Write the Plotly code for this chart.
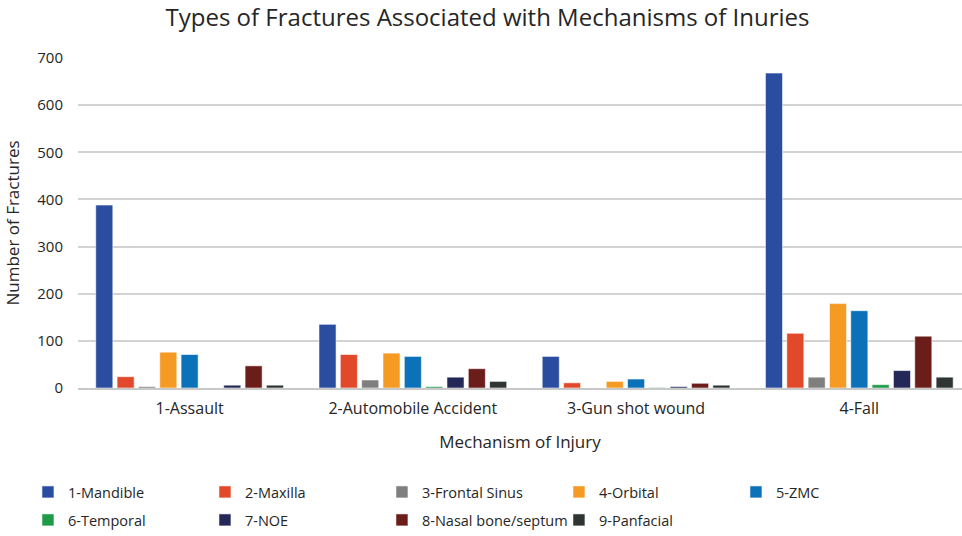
import plotly.graph_objects as go

categories = ["1-Assault", "2-Automobile Accident", "3-Gun shot wound", "4-Fall"]

mandible = [388, 135, 67, 668]
maxilla = [24, 71, 11, 116]
frontal_sinus = [3, 17, 0, 23]
orbital = [76, 74, 14, 179]
zmc = [71, 67, 19, 164]
temporal = [0, 3, 1, 7]
noe = [6, 23, 3, 37]
nasal = [47, 41, 10, 110]
panfacial = [6, 14, 6, 23]

series_names = ["1-Mandible", "2-Maxilla", "3-Frontal Sinus", "4-Orbital", "5-ZMC",
                "6-Temporal", "7-NOE", "8-Nasal bone/septum", "9-Panfacial"]
series_values = [mandible, maxilla, frontal_sinus, orbital, zmc, temporal, noe, nasal, panfacial]
colors = ["#2A4DA0", "#E2492A", "#7F7F7F", "#F59A23", "#0B71B9",
          "#1E9A48", "#232858", "#6B1D1A", "#2F3533"]

FONT = "Open Sans"
TXT = "#262626"

fig = go.Figure()
for i, (name, vals, col) in enumerate(zip(series_names, series_values, colors)):
    fig.add_trace(go.Bar(
        name=name, x=categories, y=vals,
        marker=dict(color=col, line=dict(color="rgba(255,255,255,0.55)", width=1)),
        legend="legend" if i < 5 else "legend2",
    ))

legend_common = dict(
    orientation="h", x=-0.0566, xanchor="left", yanchor="top",
    entrywidth=132, entrywidthmode="pixels",
    font=dict(size=14.5, color=TXT, family=FONT),
    traceorder="normal", bgcolor="rgba(0,0,0,0)",
)

fig.update_layout(
    width=962, height=536,
    paper_bgcolor="white", plot_bgcolor="white",
    font=dict(family=FONT, color=TXT, size=14),
    title=dict(text="Types of Fractures Associated with Mechanisms of Inuries",
               x=0.5068, xanchor="center", y=0.9664, yanchor="middle",
               font=dict(size=24, color=TXT, family=FONT)),
    margin=dict(l=78, r=0, t=58, b=148),
    barmode="group", bargap=0.14, bargroupgap=0.2,
    xaxis=dict(
        range=[-0.5, 3.46], automargin=False,
        showgrid=False, showline=True, linecolor="#C8C8C8", linewidth=1.5,
        tickfont=dict(size=16, color=TXT), ticklabelstandoff=5,
        title=dict(text="Mechanism of Injury", font=dict(size=17, color=TXT), standoff=18),
    ),
    yaxis=dict(
        range=[0, 700], dtick=100, showgrid=True, gridcolor="#D3D3D3", gridwidth=1.5,
        zeroline=False, showline=False, automargin=False,
        tickfont=dict(size=15, color=TXT), ticklabelstandoff=14,
        title=dict(text="Number of Fractures", font=dict(size=17, color=TXT), standoff=13),
    ),
    legend=dict(legend_common, y=-0.2667),
    legend2=dict(legend_common, y=-0.3515),
    showlegend=True,
)

fig.write_html("out.html", post_script="document.body.style.margin='0';",
               config={"displayModeBar": False})
